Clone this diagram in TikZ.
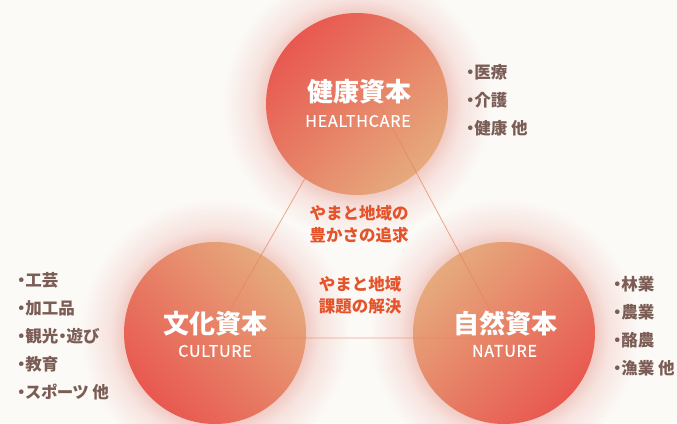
\documentclass[tikz,border=0pt]{standalone}
\usepackage{fontspec}
\setmainfont{Noto Sans CJK JP}
\newfontfamily\jpfont[RawFeature=+palt]{Noto Sans CJK JP}
\newfontfamily\enfont[LetterSpace=5,FakeBold=0.6]{Noto Sans CJK JP}
\usepackage{tikz}
\usetikzlibrary{positioning}
\definecolor{bgc}{HTML}{FBFAF7}
\definecolor{glowc}{HTML}{F1CBC4}
\definecolor{glowm}{HTML}{F7E3DF}
\definecolor{capred}{HTML}{E85850}
\definecolor{cappeach}{HTML}{E6AA7D}
\definecolor{linec}{HTML}{E9845A}
\definecolor{goalc}{HTML}{E5532A}
\definecolor{listc}{HTML}{7B5D56}
% the middle 50bp square is mapped onto the path, so 25bp = outer radius
\pgfdeclareradialshading{glowshade}{\pgfpoint{0bp}{0bp}}{color(0bp)=(glowc);color(16.8bp)=(glowc);color(19.5bp)=(glowm);color(25bp)=(bgc);color(50bp)=(bgc)}
\tikzset{
  glow/.style={shading=glowshade},
  capital/.style={circle, minimum size=182pt, inner sep=0pt},
  title/.style={text=white, font=\fontsize{26}{26}\selectfont\bfseries},
  subtitle/.style={text=white, font=\enfont\fontsize{16}{16}\selectfont},
  goal/.style={text=goalc, align=center, inner sep=0pt, font=\fontsize{16.5}{22}\selectfont\bfseries},
  items/.style={text=listc, align=left, anchor=west, inner sep=0pt, font=\jpfont\fontsize{16.5}{28}\selectfont\bfseries},
  tri/.style={draw=linec, line width=0.8pt, opacity=0.7}
}

\begin{document}
\begin{tikzpicture}[x=1pt,y=1pt]
        % background
        \fill[bgc] (0,0) rectangle (677,423);
        \useasboundingbox (0,0) rectangle (677,423);
        \coordinate (hc) at (357,319);
        \coordinate (cc) at (215,90);
        \coordinate (nc) at (504,90);
        % glows
        \shade[glow] (hc) circle[radius=135pt];
        \shade[glow] (cc) circle[radius=135pt];
        \shade[glow] (nc) circle[radius=135pt];
        % the three capitals
        \node[capital, top color=capred, bottom color=cappeach, shading angle=45] (health) at (hc) {};
        \node[capital, top color=cappeach, bottom color=capred, shading angle=-45] (culture) at (cc) {};
        \node[capital, top color=cappeach, bottom color=capred, shading angle=45] (nature) at (nc) {};
        % triangle
        \coordinate (ta) at (348,320);
        \coordinate (tb) at (379,320);
        \coordinate (bl) at (214,85);
        \coordinate (br) at (505,85);
        \draw[tri] (ta) -- (bl) -- (br) -- (tb);
        % titles
        \node[title] (healthjp) at (359,331) {健康資本};
        \node[subtitle] (healthen) at (358,302) {HEALTHCARE};
        \node[title] (culturejp) at (215.5,99) {文化資本};
        \node[subtitle] (cultureen) at (215,72) {CULTURE};
        \node[title] (naturejp) at (505,99.5) {自然資本};
        \node[subtitle] (natureen) at (504.5,72) {NATURE};
        % center texts
        \node[goal] (goalup) at (359,198.5) {やまと地域の\\豊かさの追求};
        \node[goal] (goaldown) at (360,127.5) {やまと地域\\課題の解決};
        % lists
        \node[items] (healthlist) at (466,323) {・医療\\・介護\\・健康 他};
        \node[items] (culturelist) at (17,87) {・工芸\\・加工品\\・観光・遊び\\・教育\\・スポーツ 他};
        \node[items] (naturelist) at (613,97) {・林業\\・農業\\・酪農\\・漁業 他};
\end{tikzpicture}
\end{document}
